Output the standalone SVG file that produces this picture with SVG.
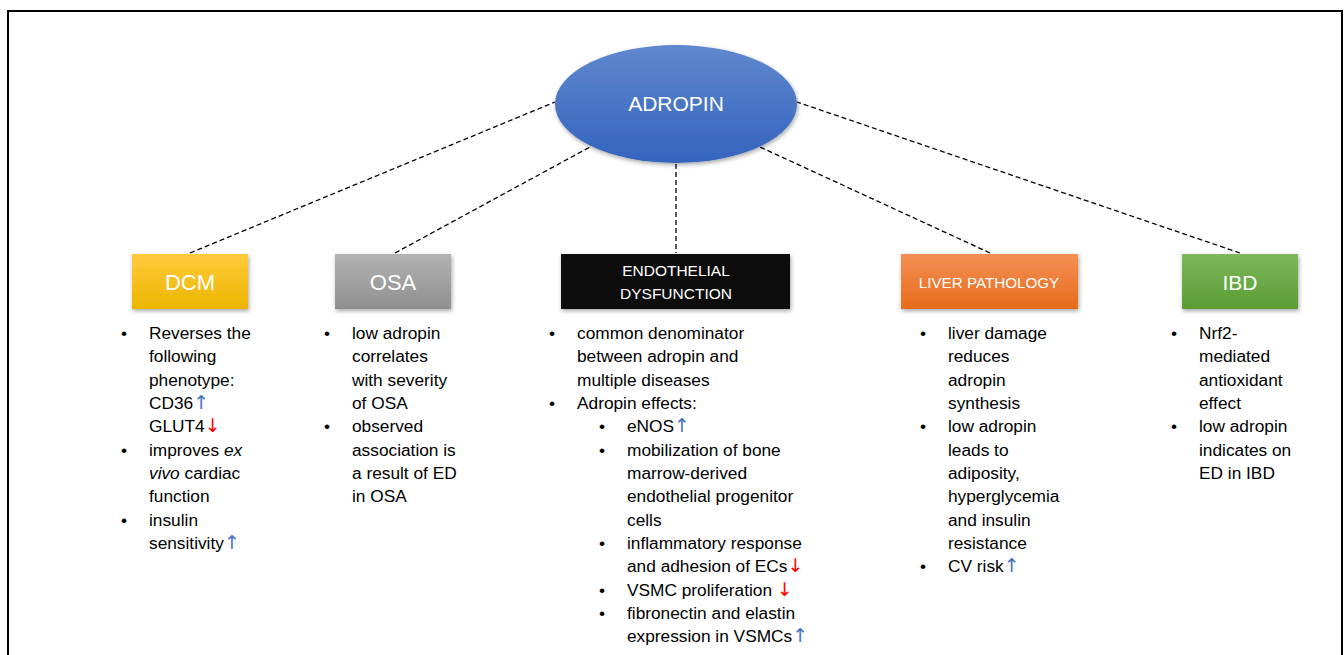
<svg xmlns="http://www.w3.org/2000/svg" width="1344" height="655" viewBox="0 0 1344 655">
<defs>
<linearGradient id="gBlue" x1="0" y1="0" x2="0" y2="1"><stop offset="0" stop-color="#5f88cf"/><stop offset="1" stop-color="#3463bd"/></linearGradient>
<linearGradient id="gGold" x1="0" y1="0" x2="0" y2="1"><stop offset="0" stop-color="#ffcb3d"/><stop offset="1" stop-color="#ecb500"/></linearGradient>
<linearGradient id="gGray" x1="0" y1="0" x2="0" y2="1"><stop offset="0" stop-color="#b3b3b3"/><stop offset="1" stop-color="#8f8f8f"/></linearGradient>
<linearGradient id="gOrange" x1="0" y1="0" x2="0" y2="1"><stop offset="0" stop-color="#f48f55"/><stop offset="1" stop-color="#e66c1a"/></linearGradient>
<linearGradient id="gGreen" x1="0" y1="0" x2="0" y2="1"><stop offset="0" stop-color="#7cb95b"/><stop offset="1" stop-color="#5b9c33"/></linearGradient>
<filter id="sh" x="-10%" y="-10%" width="125%" height="140%"><feDropShadow dx="1" dy="2" stdDeviation="2" flood-color="#000" flood-opacity="0.35"/></filter>
</defs>
<style>
.t{font-family:"Liberation Sans",Arial,sans-serif;font-size:17.3px;fill:#000}
.lbl{font-family:"Liberation Sans",Arial,sans-serif;fill:#fff;text-anchor:middle}
.up{fill:#4472c4;font-family:"DejaVu Sans",sans-serif;font-size:19px}
.dn{fill:#ff0000;font-family:"DejaVu Sans",sans-serif;font-size:19px}
.dash{stroke:#000;stroke-width:1.3;stroke-dasharray:5,3;fill:none}
</style>
<rect x="8" y="11" width="1334" height="660" fill="none" stroke="#000" stroke-width="2"/>
<g id="connectors">
<line class="dash" x1="190" y1="253" x2="555" y2="102"/>
<line class="dash" x1="395" y1="253" x2="590" y2="147"/>
<line class="dash" x1="676" y1="164" x2="676" y2="253"/>
<line class="dash" x1="990" y1="253" x2="760" y2="147"/>
<line class="dash" x1="1240" y1="253" x2="797" y2="102"/>
</g>
<g id="adropin">
<ellipse cx="676" cy="104" rx="121" ry="59" fill="url(#gBlue)" filter="url(#sh)"/>
<text class="lbl" x="676" y="111" font-size="21">ADROPIN</text>
</g>
<g id="dcm">
<rect x="132" y="254" width="116" height="55" fill="url(#gGold)" filter="url(#sh)"/>
<text class="lbl" x="190" y="290" font-size="22">DCM</text>
<g class="t">
<text x="121" y="339">•</text><text x="149" y="339">Reverses the</text>
<text x="149" y="362.3">following</text>
<text x="149" y="385.6">phenotype:</text>
<text x="149" y="409">CD36<tspan class="up">↑</tspan></text>
<text x="149" y="432.3">GLUT4<tspan class="dn">↓</tspan></text>
<text x="121" y="455.6">•</text><text x="149" y="455.6">improves <tspan font-style="italic">ex</tspan></text>
<text x="149" y="479"><tspan font-style="italic">vivo</tspan> cardiac</text>
<text x="149" y="502.3">function</text>
<text x="121" y="525.6">•</text><text x="149" y="525.6">insulin</text>
<text x="149" y="549">sensitivity<tspan class="up">↑</tspan></text>
</g>
</g>
<g id="osa">
<rect x="335" y="254" width="116" height="55" fill="url(#gGray)" filter="url(#sh)"/>
<text class="lbl" x="393" y="290" font-size="22">OSA</text>
<g class="t">
<text x="324" y="339">•</text><text x="352" y="339">low adropin</text>
<text x="352" y="362.3">correlates</text>
<text x="352" y="385.6">with severity</text>
<text x="352" y="409">of OSA</text>
<text x="324" y="432.3">•</text><text x="352" y="432.3">observed</text>
<text x="352" y="455.6">association is</text>
<text x="352" y="479">a result of ED</text>
<text x="352" y="502.3">in OSA</text>
</g>
</g>
<g id="endothelial">
<rect x="561" y="254" width="229" height="55" fill="#080808" filter="url(#sh)"/>
<text class="lbl" x="676" y="276" font-size="15.5">ENDOTHELIAL</text>
<text class="lbl" x="676" y="299" font-size="15.5">DYSFUNCTION</text>
<g class="t">
<text x="549" y="339">•</text><text x="577" y="339">common denominator</text>
<text x="577" y="362.3">between adropin and</text>
<text x="577" y="385.6">multiple diseases</text>
<text x="549" y="409">•</text><text x="577" y="409">Adropin effects:</text>
<text x="599" y="432.3">•</text><text x="627" y="432.3">eNOS<tspan class="up">↑</tspan></text>
<text x="599" y="455.6">•</text><text x="627" y="455.6">mobilization of bone</text>
<text x="627" y="479">marrow-derived</text>
<text x="627" y="502.3">endothelial progenitor</text>
<text x="627" y="525.6">cells</text>
<text x="599" y="549">•</text><text x="627" y="549">inflammatory response</text>
<text x="627" y="572.3">and adhesion of ECs<tspan class="dn">↓</tspan></text>
<text x="599" y="595.6">•</text><text x="627" y="595.6">VSMC proliferation <tspan class="dn">↓</tspan></text>
<text x="599" y="619">•</text><text x="627" y="619">fibronectin and elastin</text>
<text x="627" y="642.3">expression in VSMCs<tspan class="up">↑</tspan></text>
</g>
</g>
<g id="liver">
<rect x="901" y="254" width="177" height="55" fill="url(#gOrange)" filter="url(#sh)"/>
<text class="lbl" x="989" y="288" font-size="15.2">LIVER PATHOLOGY</text>
<g class="t">
<text x="920" y="339">•</text><text x="948" y="339">liver damage</text>
<text x="948" y="362.3">reduces</text>
<text x="948" y="385.6">adropin</text>
<text x="948" y="409">synthesis</text>
<text x="920" y="432.3">•</text><text x="948" y="432.3">low adropin</text>
<text x="948" y="455.6">leads to</text>
<text x="948" y="479">adiposity,</text>
<text x="948" y="502.3">hyperglycemia</text>
<text x="948" y="525.6">and insulin</text>
<text x="948" y="549">resistance</text>
<text x="920" y="572.3">•</text><text x="948" y="572.3">CV risk<tspan class="up">↑</tspan></text>
</g>
</g>
<g id="ibd">
<rect x="1182" y="254" width="116" height="55" fill="url(#gGreen)" filter="url(#sh)"/>
<text class="lbl" x="1240" y="290" font-size="21">IBD</text>
<g class="t">
<text x="1171" y="339">•</text><text x="1199" y="339">Nrf2-</text>
<text x="1199" y="362.3">mediated</text>
<text x="1199" y="385.6">antioxidant</text>
<text x="1199" y="409">effect</text>
<text x="1171" y="432.3">•</text><text x="1199" y="432.3">low adropin</text>
<text x="1199" y="455.6">indicates on</text>
<text x="1199" y="479">ED in IBD</text>
</g>
</g>
</svg>
